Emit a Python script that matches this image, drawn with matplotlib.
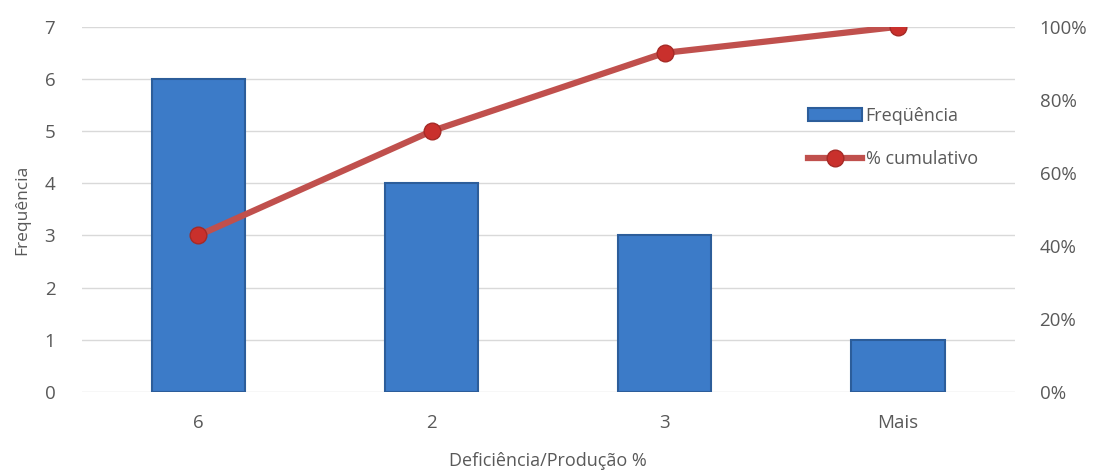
import numpy as np
import matplotlib.pyplot as plt
from matplotlib.ticker import PercentFormatter

categorias = ['6', '2', '3', 'Mais']
frequencia = [6, 4, 3, 1]
cumulativo = [42.86, 71.43, 92.86, 100.0]

plt.rcParams['font.family'] = ['Open Sans', 'DejaVu Sans']
cor_texto = '#595959'

fig = plt.figure(figsize=(11.04, 4.70), dpi=100)
ax = fig.add_axes([0.074, 0.166, 0.845, 0.777])
x = np.arange(len(categorias))

barras = ax.bar(x, frequencia, width=0.4, color='#3c7bc8', edgecolor='#2c5d9a',
                linewidth=1.5, label='Freqüência', zorder=2)
ax.set_ylim(0, 7)
ax.set_xlim(-0.5, len(categorias) - 0.5)
ax.set_yticks(range(0, 8))
ax.set_xticks(x)
ax.set_xticklabels(categorias)
ax.grid(axis='y', color='#d9d9d9', linewidth=1, zorder=0)
for s in ax.spines.values():
    s.set_visible(False)
ax.tick_params(axis='y', length=0, colors=cor_texto, labelsize=13.5, pad=19)
ax.tick_params(axis='x', length=0, colors=cor_texto, labelsize=13.5, pad=16)
ax.set_ylabel('Frequência', color=cor_texto, fontsize=12.5, labelpad=10)
ax.set_xlabel('Deficiência/Produção %', color=cor_texto, fontsize=13, labelpad=14)

ax2 = ax.twinx()
linha, = ax2.plot(x, cumulativo, color='#c0504d', linewidth=4.5, marker='o',
                  markersize=12, markerfacecolor='#c9302c', markeredgecolor='#a52a26',
                  label='% cumulativo', zorder=3)
ax2.set_ylim(0, 100)
ax2.set_yticks(range(0, 101, 20))
ax2.yaxis.set_major_formatter(PercentFormatter(decimals=0))
for s in ax2.spines.values():
    s.set_visible(False)
ax2.tick_params(length=0, colors=cor_texto, labelsize=13.5, pad=18)

ax2.legend([barras, linha], ['Freqüência', '% cumulativo'], loc='upper left',
           bbox_to_anchor=(0.761, 0.825), frameon=False, fontsize=13,
           labelcolor=cor_texto, handlelength=3.0, handletextpad=0.2,
           labelspacing=1.4)

fig.savefig('out.png', dpi=100)
